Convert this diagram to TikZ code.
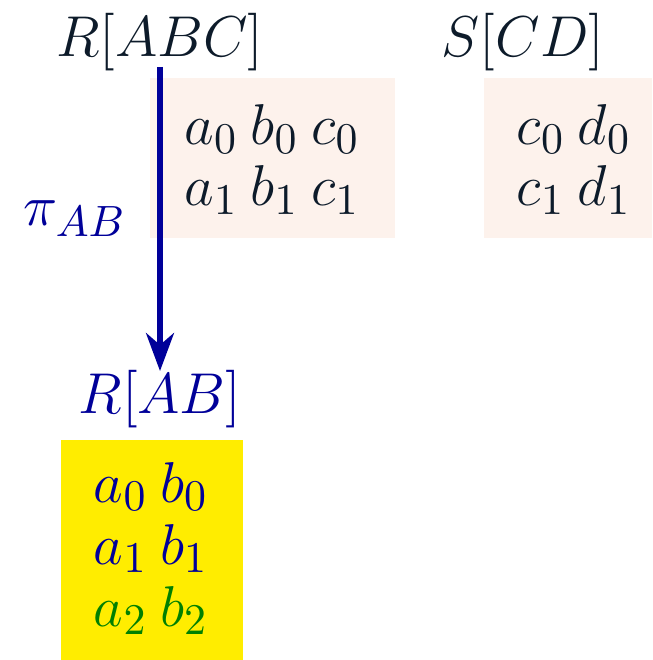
\documentclass[tikz,border=0pt]{standalone}
\usetikzlibrary{arrows.meta}
\definecolor{ink}{HTML}{0D1B2A}
\definecolor{navy}{HTML}{000099}
\definecolor{leafgreen}{HTML}{008000}
\definecolor{tuplepink}{HTML}{FDF2EC}
\definecolor{hilite}{HTML}{FFED00}
\begin{document}
\begin{tikzpicture}[x=0.25pt,y=-0.25pt,
  lbl/.style={inner sep=0pt,anchor=base,font=\fontsize{15.4}{18}\selectfont},
  relbox/.style={draw=none,inner sep=0pt,anchor=north west},
  proj/.style={navy,line width=1.3pt,-{Stealth[length=9.5pt,width=7pt,inset=3pt]}}]
\useasboundingbox (0,0) rectangle (652,660);

% tuple tables
\fill[tuplepink] (150,78) rectangle (395,238);
\fill[tuplepink] (484,78) rectangle (652,238);
\fill[hilite] (61,440) rectangle (243,660);
\node[relbox] (rbox) at (150,78) {};
\node[relbox] (sbox) at (484,78) {};
\node[relbox] (ybox) at (61,440) {};

% relation names
\node[lbl,text=ink] (rabc) at (160,57) {$R[ABC]$};
\node[lbl,text=ink] (scd) at (523,57) {$S[CD]$};
\node[lbl,text=navy] (rab) at (160,414) {$R[AB]$};

% rows of R
\node[lbl,text=ink] (r0) at (272,145) {$a_0\:b_0\:c_0$};
\node[lbl,text=ink] (r1) at (272,206) {$a_1\:b_1\:c_1$};
% rows of S
\node[lbl,text=ink] (s0) at (574,145) {$c_0\:d_0$};
\node[lbl,text=ink] (s1) at (574,206) {$c_1\:d_1$};
% rows of the projection
\node[lbl,text=navy] (p0) at (151,502) {$a_0\:b_0$};
\node[lbl,text=navy] (p1) at (151,564) {$a_1\:b_1$};
\node[lbl,text=leafgreen] (p2) at (151,626) {$a_2\:b_2$};

% projection arrow
\coordinate (from) at (160,67);
\coordinate (to) at (160,371);
\draw[proj] (from) -- (to);
\node[lbl,text=navy] (pi) at (75,226) {$\pi_{AB}$};
\end{tikzpicture}
\end{document}
